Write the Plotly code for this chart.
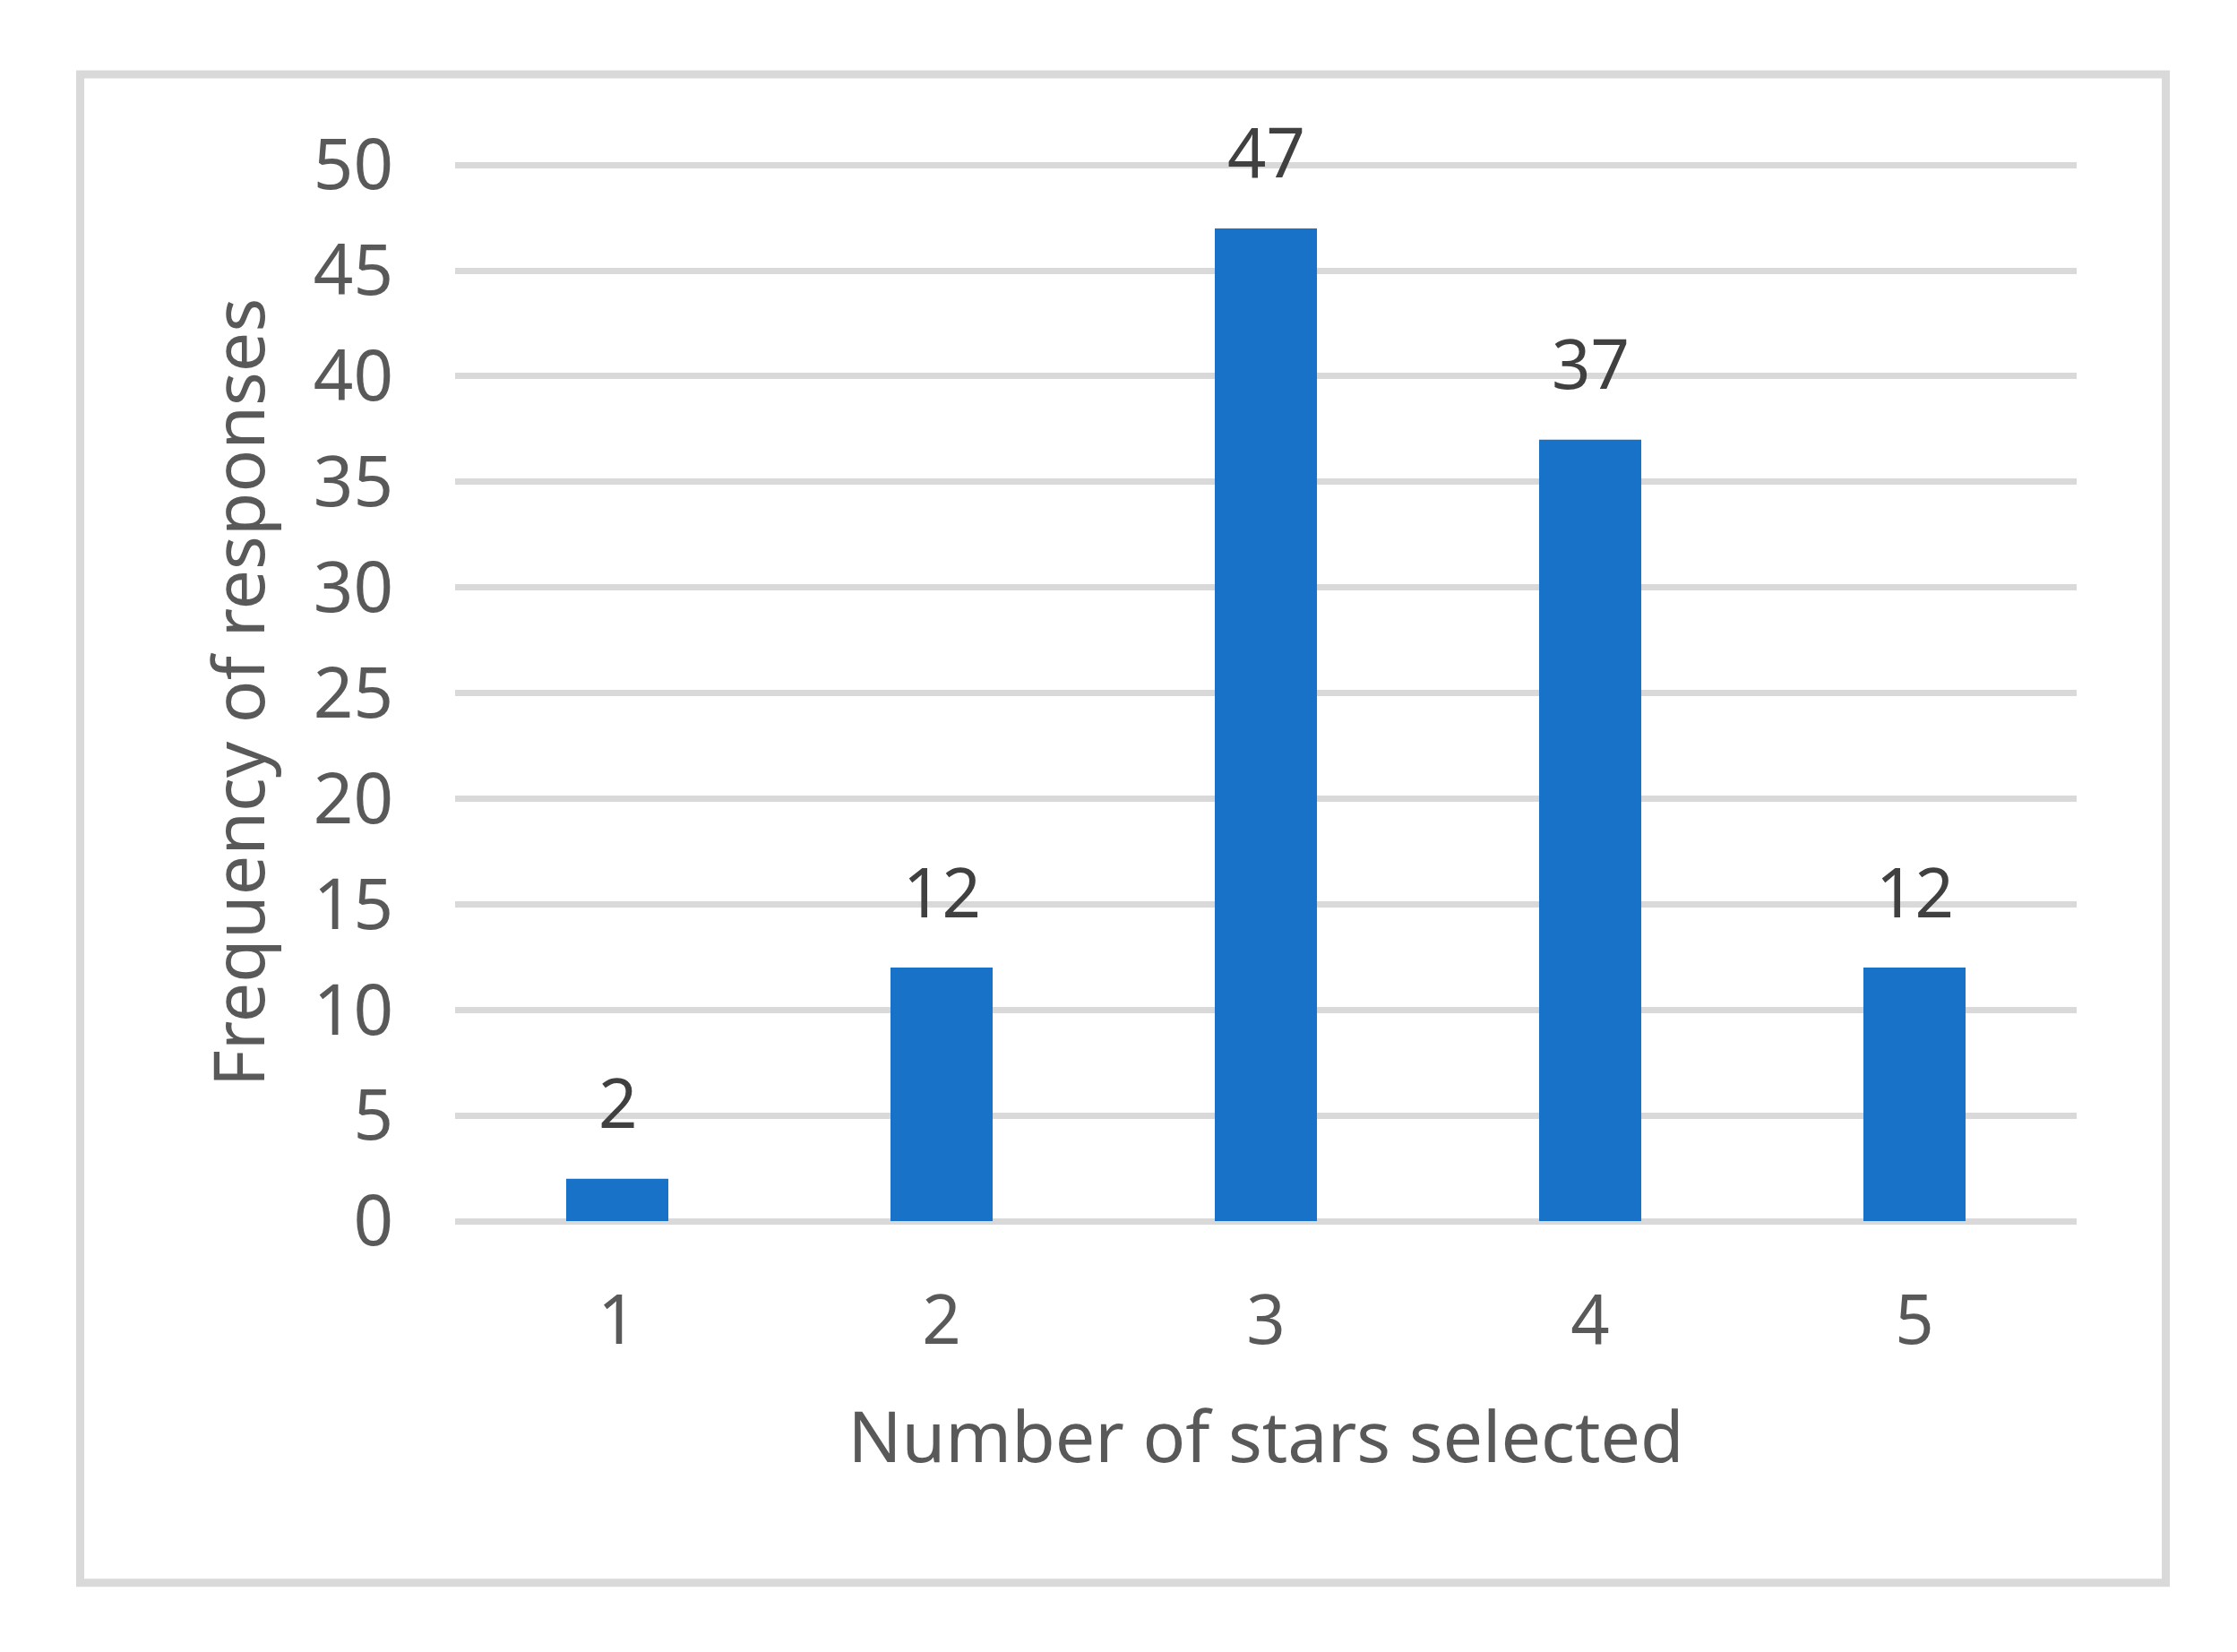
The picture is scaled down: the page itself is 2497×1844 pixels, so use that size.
import plotly.graph_objects as go

# stars selected vs number of responses
stars = ["1", "2", "3", "4", "5"]
responses = [2, 12, 47, 37, 12]
y_ticks = [0, 5, 10, 15, 20, 25, 30, 35, 40, 45, 50]

# page body has an 8px margin, so the figure is a bit smaller than the window
W, H = 2481, 1828
FONT = "Noto Sans"

fig = go.Figure()
fig.add_trace(go.Bar(x=stars, y=responses, marker_color="#1873c8",
                     marker_line_width=0, showlegend=False))

# data labels above each bar (category index on the x axis)
for i, v in enumerate(responses):
    fig.add_annotation(x=i, y=v, text=str(v), showarrow=False,
                       yanchor="middle", yshift=86,
                       font=dict(family=FONT, size=76, color="#404040"))

# light grey frame round the whole chart
fig.add_shape(type="rect", xref="paper", yref="paper",
              x0=-0.2312, x1=1.0550, y0=-0.3421, y1=1.0848,
              line=dict(color="#d9d9d9", width=9))

fig.update_layout(
    width=W, height=H,
    margin=dict(l=500, r=171, t=175, b=473),
    plot_bgcolor="white", paper_bgcolor="white",
    bargap=0.685,
    font=dict(family=FONT, color="#595959"),
)
fig.update_xaxes(
    type="category",
    showgrid=False, showline=False, zeroline=False,
    tickfont=dict(size=76, color="#595959"),
    ticklabelstandoff=60,
    title=dict(text="Number of stars selected",
               font=dict(size=79, color="#595959"), standoff=55),
)
fig.update_yaxes(
    range=[0, 50.05], tickvals=y_ticks,
    showgrid=True, gridcolor="#d9d9d9", gridwidth=7,
    zeroline=True, zerolinecolor="#d9d9d9", zerolinewidth=7,
    showline=False,
    tickfont=dict(size=78, color="#595959"),
    ticklabelstandoff=68,
    title=dict(text="Frequency of responses",
               font=dict(size=79, color="#595959"), standoff=28),
)

fig.write_html("out.html")
